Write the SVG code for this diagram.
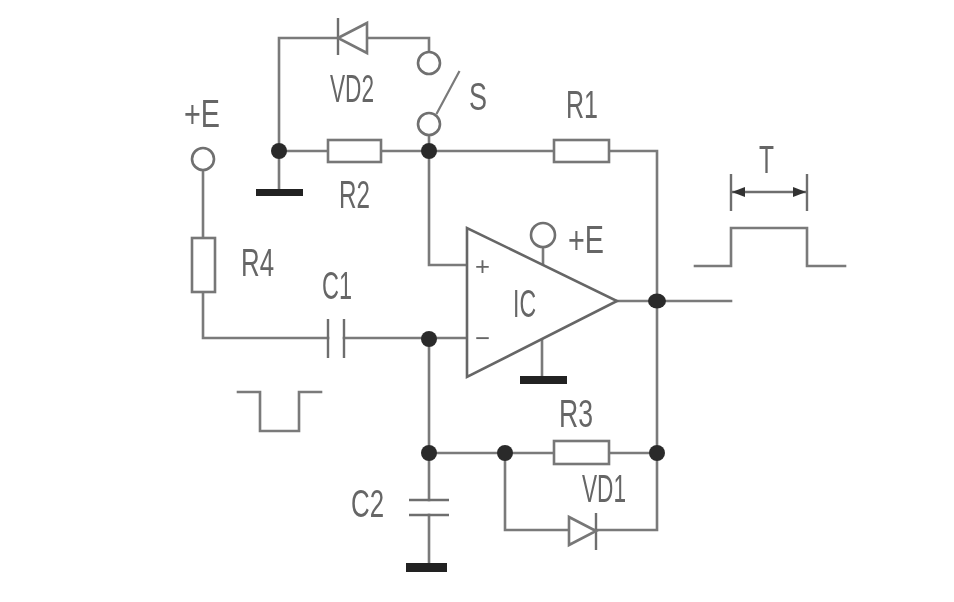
<svg xmlns="http://www.w3.org/2000/svg" width="954" height="602" viewBox="0 0 954 602">
<style>
.w{fill:none;stroke:#7a7a7a;stroke-width:2.6;stroke-linecap:square;stroke-linejoin:miter}
.d{fill:none;stroke:#6e6e6e;stroke-width:2.4}
.b{fill:#fff;stroke:#777;stroke-width:2.6}
.o{fill:#fff;stroke:#6f6f6f;stroke-width:2.6}
.j{fill:#2c2c2c}
.g{fill:#222}
.t{font-family:"Liberation Sans",Arial,sans-serif;font-size:38px;fill:#666}
</style>
<defs>
<marker id="ah" viewBox="0 0 13 10" refX="13" refY="5" markerWidth="13" markerHeight="10" markerUnits="userSpaceOnUse" orient="auto-start-reverse"><path d="M0 0L13 5L0 10Z" fill="#333"/></marker>
<filter id="soft" x="-2%" y="-2%" width="104%" height="104%"><feGaussianBlur stdDeviation="0.6"/></filter>
</defs>
<rect width="954" height="602" fill="#fff"/>
<g filter="url(#soft)">
<g id="connectors">
<path class="w" d="M279 151V38H429V52"/>
<path class="w" d="M279 151V190"/>
<path class="w" d="M279 151H328M381 151H554M609 151H657V530H505V453"/>
<path class="w" d="M429 135V265H467"/>
<path class="w" d="M203 170V238M203 292V338H328M344 338H467"/>
<path class="w" d="M429 338V500M429 453H554M609 453H657"/>
<path class="w" d="M429 515V565"/>
<path class="w" d="M617 301H731"/>
<path class="w" d="M543 247V265M542 340V378"/>
<path class="w" d="M437 113L459 72" style="stroke-width:2.2"/>
</g>
<g id="VD2"><path class="d" d="M338 18V55"/><path class="b" d="M338 38L367 23V53Z"/><text class="t" x="330" y="102" textLength="44" lengthAdjust="spacingAndGlyphs">VD2</text></g>
<g id="S"><circle class="o" cx="429" cy="63" r="11"/><circle class="o" cx="429" cy="124" r="11"/><text class="t" x="469" y="110" textLength="18" lengthAdjust="spacingAndGlyphs">S</text></g>
<g id="R2"><rect class="b" x="328" y="140" width="53" height="22"/><text class="t" x="339" y="208" textLength="31" lengthAdjust="spacingAndGlyphs">R2</text></g>
<g id="R1"><rect class="b" x="554" y="140" width="55" height="22"/><text class="t" x="566" y="118" textLength="32" lengthAdjust="spacingAndGlyphs">R1</text></g>
<g id="R3"><rect class="b" x="554" y="441" width="55" height="23"/><text class="t" x="559" y="427" textLength="34" lengthAdjust="spacingAndGlyphs">R3</text></g>
<g id="R4"><rect class="b" x="192" y="238" width="23" height="54"/><text class="t" x="241" y="276" textLength="33" lengthAdjust="spacingAndGlyphs">R4</text></g>
<g id="C1"><path class="d" d="M328 319V358M344 319V358"/><text class="t" x="322" y="299" textLength="30" lengthAdjust="spacingAndGlyphs">C1</text></g>
<g id="C2"><path class="d" d="M409 500H449M409 515H449"/><text class="t" x="351" y="517" textLength="33" lengthAdjust="spacingAndGlyphs">C2</text></g>
<g id="VD1"><path class="d" d="M596 513V550"/><path class="b" d="M596 531L569 517V545Z"/><text class="t" x="582" y="502" textLength="44" lengthAdjust="spacingAndGlyphs">VD1</text></g>
<g id="IC"><path class="b" d="M467 228V377L617 301Z" style="stroke:#666"/><text class="t" x="513" y="317" textLength="23" lengthAdjust="spacingAndGlyphs">IC</text><text class="t" x="475" y="275" style="font-size:26px" textLength="15" lengthAdjust="spacingAndGlyphs">+</text><text class="t" x="475" y="347" style="font-size:26px" textLength="15" lengthAdjust="spacingAndGlyphs">−</text></g>
<g id="supply-ic"><circle class="o" cx="543" cy="235" r="12"/><text class="t" x="568" y="253" textLength="36" lengthAdjust="spacingAndGlyphs">+E</text></g>
<g id="supply-r4"><circle class="o" cx="203" cy="159" r="11"/><text class="t" x="184" y="127" textLength="36" lengthAdjust="spacingAndGlyphs">+E</text></g>
<g id="gnd-r2"><rect class="g" x="256" y="189" width="47" height="7"/></g>
<g id="gnd-ic"><rect class="g" x="520" y="376" width="47" height="8"/></g>
<g id="gnd-c2"><rect class="g" x="406" y="563" width="41" height="9"/></g>
<g id="j1"><circle class="j" cx="279" cy="151" r="8"/></g>
<g id="j2"><circle class="j" cx="429" cy="151" r="8"/></g>
<g id="j3"><circle class="j" cx="429" cy="339" r="8"/></g>
<g id="j4"><circle class="j" cx="429" cy="453" r="8"/></g>
<g id="j5"><circle class="j" cx="505" cy="453" r="8"/></g>
<g id="j6"><circle class="j" cx="657" cy="453" r="8"/></g>
<g id="j7"><ellipse class="j" cx="657" cy="301" rx="9" ry="7.5"/></g>
<g id="timing"><path class="d" d="M731 174V211M807 174V211"/><path class="d" d="M732 192H806" marker-start="url(#ah)" marker-end="url(#ah)"/><text class="t" x="759" y="173" textLength="15" lengthAdjust="spacingAndGlyphs">T</text><path class="w" d="M695 266H731V228H807V266H845"/></g>
<g id="pulse"><path class="w" d="M238 392H260V431H299V392H321"/></g>
</g>
</svg>
